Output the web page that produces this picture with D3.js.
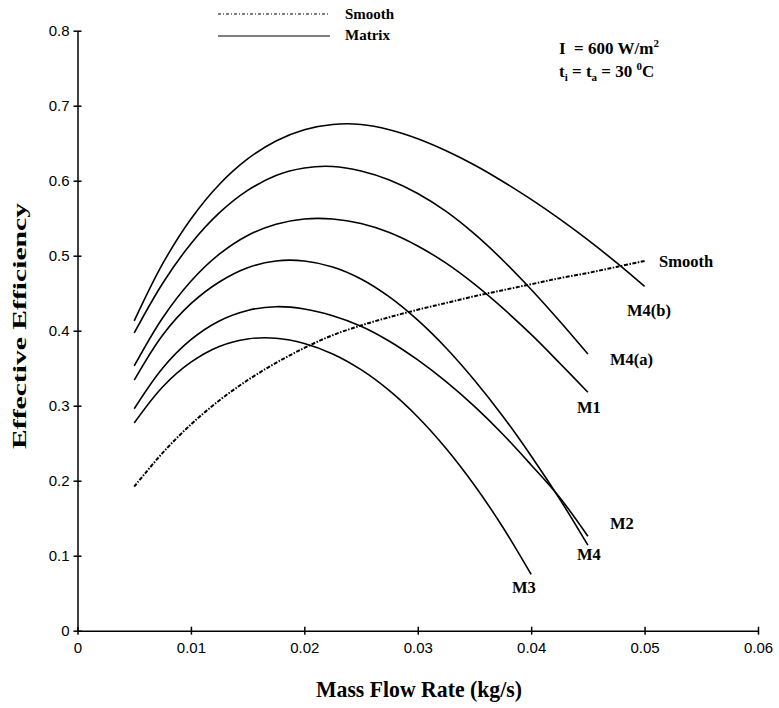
<!DOCTYPE html>
<html>
<head>
<meta charset="UTF-8">
<title>Effective Efficiency vs Mass Flow Rate</title>
<script src="https://cdn.jsdelivr.net/npm/d3@7"></script>
<style>
  body { margin: 0; background: #fff; }
  .tick text { font-family: "Liberation Sans", Arial, sans-serif; font-size: 15px; fill: #000; }
  .bold { font-family: "Liberation Serif", "Times New Roman", serif; font-weight: bold; fill: #000; }
</style>
</head>
<body>
<script>
// mass flow rates (kg/s) used for every series
var flowRates = [0.005, 0.0075, 0.01, 0.0125, 0.015, 0.0175, 0.02, 0.0225, 0.025, 0.0275,
                 0.03, 0.0325, 0.035, 0.0375, 0.04, 0.0425, 0.045, 0.0475, 0.05];

// effective efficiency
var smooth = [0.192, 0.237, 0.275, 0.307, 0.334, 0.357, 0.377, 0.394, 0.407, 0.418,
              0.428, 0.437, 0.446, 0.454, 0.462, 0.470, 0.477, 0.485, 0.493];
var m4b = [0.413, 0.489, 0.549, 0.595, 0.629, 0.653, 0.668, 0.675, 0.675, 0.668,
           0.656, 0.640, 0.621, 0.599, 0.575, 0.549, 0.521, 0.491, 0.459];
var m4a = [0.397, 0.463, 0.516, 0.557, 0.587, 0.607, 0.617, 0.619, 0.613, 0.601,
           0.583, 0.559, 0.529, 0.494, 0.455, 0.413, 0.369];
var m1 = [0.353, 0.417, 0.466, 0.502, 0.527, 0.542, 0.549, 0.549, 0.543, 0.531,
          0.513, 0.490, 0.462, 0.430, 0.395, 0.357, 0.318];
var m2 = [0.334, 0.394, 0.436, 0.465, 0.484, 0.493, 0.493, 0.485, 0.469, 0.445,
          0.414, 0.377, 0.334, 0.286, 0.233, 0.176, 0.114];
var m4 = [0.296, 0.350, 0.388, 0.413, 0.427, 0.432, 0.429, 0.420, 0.406, 0.386,
          0.361, 0.332, 0.299, 0.262, 0.221, 0.178, 0.126];
var m3 = [0.277, 0.325, 0.358, 0.379, 0.389, 0.390, 0.383, 0.369, 0.348, 0.320,
          0.285, 0.243, 0.194, 0.138, 0.075];

var xTicks = [0, 0.01, 0.02, 0.03, 0.04, 0.05, 0.06];
var yTicks = [0, 0.1, 0.2, 0.3, 0.4, 0.5, 0.6, 0.7, 0.8];

var width = 779, height = 708;
var margin = {left: 77.5, right: 21, top: 30.7, bottom: 77.3};

var svg = d3.select("body").append("svg")
            .attr("width", width)
            .attr("height", height);

var x = d3.scaleLinear().domain([0, 0.06]).range([margin.left, width - margin.right]);
var y = d3.scaleLinear().domain([0, 0.8]).range([height - margin.bottom, margin.top]);

//Axes, ticks crossing the axis line.
var xAxis = svg.append("g")
   .attr("transform", "translate(0," + y(0) + ")")
   .call(d3.axisBottom(x).tickValues(xTicks).tickFormat(function(d) { return d === 0 ? "0" : d3.format(".2f")(d); })
         .tickSizeInner(4).tickSizeOuter(0).tickPadding(8));
xAxis.selectAll(".tick line").attr("y1", -4);

var yAxis = svg.append("g")
   .attr("transform", "translate(" + x(0) + ",0)")
   .call(d3.axisLeft(y).tickValues(yTicks).tickFormat(function(d) { return d === 0 ? "0" : d3.format(".1f")(d); })
         .tickSizeInner(4).tickSizeOuter(0).tickPadding(4));
yAxis.selectAll(".tick line").attr("x1", 4);

svg.selectAll(".domain, .tick line").attr("stroke", "#000").attr("stroke-width", 1.5);

//Curves.
var line = d3.line()
             .x(function(d) { return x(d[0]); })
             .y(function(d) { return y(d[1]); })
             .curve(d3.curveCatmullRom.alpha(0.5));

var matrixSeries = [m4b, m4a, m1, m2, m4, m3];
matrixSeries.forEach(function(s) {
    svg.append("path")
       .datum(s.map(function(v, i) { return [flowRates[i], v]; }))
       .attr("d", line)
       .attr("fill", "none")
       .attr("stroke", "#000")
       .attr("stroke-width", 1.6);
});

svg.append("path")
   .datum(smooth.map(function(v, i) { return [flowRates[i], v]; }))
   .attr("d", line)
   .attr("fill", "none")
   .attr("stroke", "#000")
   .attr("stroke-width", 2)
   .attr("stroke-dasharray", "4,1.5,1.5,1.5");

//Curve labels.
var labels = [
    ["Smooth", 659, 267], ["M4(b)", 627, 316], ["M4(a)", 610, 365], ["M1", 577, 413],
    ["M2", 610, 529], ["M4", 577, 560], ["M3", 512, 593]
];
labels.forEach(function(l) {
    svg.append("text").attr("class", "bold").attr("font-size", 16.5)
       .attr("x", l[1]).attr("y", l[2]).text(l[0]);
});

//Legend.
svg.append("line").attr("x1", 218).attr("x2", 330).attr("y1", 14).attr("y2", 14)
   .attr("stroke", "#000").attr("stroke-width", 1.2).attr("stroke-dasharray", "3,2,1,2");
svg.append("text").attr("class", "bold").attr("font-size", 15).attr("x", 345).attr("y", 19).text("Smooth");
svg.append("line").attr("x1", 218).attr("x2", 330).attr("y1", 36).attr("y2", 36)
   .attr("stroke", "#000").attr("stroke-width", 1.2);
svg.append("text").attr("class", "bold").attr("font-size", 15).attr("x", 345).attr("y", 40).text("Matrix");

//Conditions.
var cond1 = svg.append("text").attr("class", "bold").attr("font-size", 17).attr("x", 559).attr("y", 54);
cond1.append("tspan").text("I\u00a0 = 600 W/m");
cond1.append("tspan").attr("font-size", 11).attr("dy", -7).text("2");

var cond2 = svg.append("text").attr("class", "bold").attr("font-size", 17).attr("x", 559).attr("y", 77);
cond2.append("tspan").text("t");
cond2.append("tspan").attr("font-size", 11).attr("dy", 4).text("i");
cond2.append("tspan").attr("dy", -4).text(" = t");
cond2.append("tspan").attr("font-size", 11).attr("dy", 4).text("a");
cond2.append("tspan").attr("dy", -4).text(" = 30\u00a0");
cond2.append("tspan").attr("font-size", 11).attr("dy", -7).text("0");
cond2.append("tspan").attr("dy", 7).text("C");

//Axis titles.
svg.append("text").attr("class", "bold").attr("font-size", 21)
   .attr("text-anchor", "middle")
   .attr("transform", "translate(419,697) scale(1,1.1)")
   .attr("textLength", 206).attr("lengthAdjust", "spacingAndGlyphs")
   .text("Mass Flow Rate (kg/s)");
svg.append("text").attr("class", "bold").attr("font-size", 19)
   .attr("text-anchor", "middle")
   .attr("transform", "translate(26,326) rotate(-90)")
   .attr("textLength", 246).attr("lengthAdjust", "spacingAndGlyphs")
   .text("Effective Efficiency");
</script>
</body>
</html>
